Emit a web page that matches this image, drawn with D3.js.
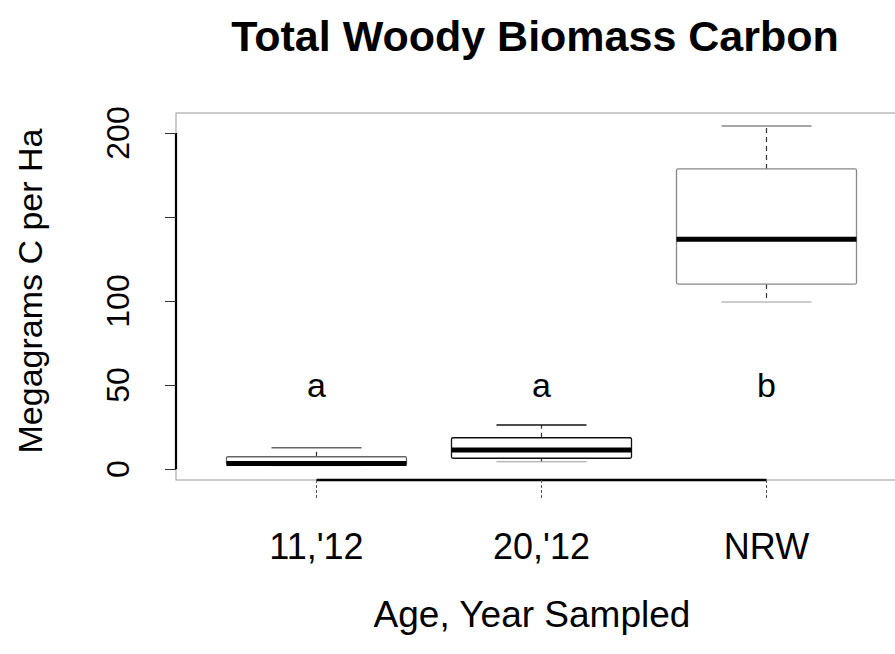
<!DOCTYPE html>
<html>
<head>
<meta charset="utf-8">
<script src="https://cdn.jsdelivr.net/npm/d3@7"></script>
<style>
  html, body { margin: 0; padding: 0; background: #fff; }
  svg { display: block; }
  text { font-family: "Liberation Sans", Arial, sans-serif; fill: #000; }
</style>
</head>
<body>
<svg id="chart" width="895" height="654"></svg>
<script>
// ---- data ----
const categories = ["11,'12", "20,'12", "NRW"];
const lowerWhisker = [2.0, 4.3, 99.4];
const q1 = [2.4, 6.4, 110.1];
const median = [3.3, 11.3, 136.7];
const q3 = [7.3, 18.6, 178.6];
const upperWhisker = [12.7, 26.2, 204.2];
const groupLetters = ["a", "a", "b"];
const letterValue = 50;
const yTicks = [0, 50, 100, 150, 200];
const yTickLabels = ["0", "50", "100", "", "200"];
const titleText = "Total Woody Biomass Carbon";
const xTitle = "Age, Year Sampled";
const yTitle = "Megagrams C per Ha";

const rows = categories.map((c, i) => ({
  cat: c, lo: lowerWhisker[i], q1: q1[i], med: median[i], q3: q3[i], hi: upperWhisker[i], letter: groupLetters[i]
}));

// ---- layout ----
const svg = d3.select("#chart");
svg.append("rect").attr("width", 895).attr("height", 654).attr("fill", "#fff");

const y = d3.scaleLinear().domain([0, 200]).range([469, 133]);
const x = d3.scaleBand().domain(categories).range([204, 879]).paddingInner(0.2).paddingOuter(0.1);
const frame = {left: 176, right: 910, top: 113, bottom: 480};

// plot frame (faint)
svg.append("rect")
  .attr("x", frame.left).attr("y", frame.top)
  .attr("width", frame.right - frame.left).attr("height", frame.bottom - frame.top)
  .attr("fill", "none").attr("stroke", "#9a9a9a").attr("stroke-width", 1);

// y axis
const yAxis = svg.append("g").attr("transform", `translate(${frame.left},0)`)
  .call(d3.axisLeft(y).tickValues(yTicks).tickSize(11).tickFormat(""));
yAxis.select(".domain").attr("d", `M0,${y(0)}V${y(200)}`).attr("stroke", "#000").attr("stroke-width", 2.2);
yAxis.selectAll(".tick line").attr("stroke", "#333").attr("stroke-width", 1);

yTicks.forEach((t, i) => {
  if (!yTickLabels[i]) return;
  svg.append("text")
    .attr("transform", `translate(129,${y(t)}) rotate(-90)`)
    .attr("text-anchor", "middle")
    .attr("font-size", 32)
    .text(yTickLabels[i]);
});

// x axis
const xAxis = svg.append("g").attr("transform", `translate(0,${frame.bottom})`)
  .call(d3.axisBottom(x).tickSize(20).tickFormat(""));
const xc = c => x(c) + x.bandwidth() / 2;
xAxis.select(".domain").attr("d", `M${xc(categories[0])},0H${xc(categories[categories.length-1])}`)
  .attr("stroke", "#000").attr("stroke-width", 2.5);
xAxis.selectAll(".tick line").attr("stroke", "#555").attr("stroke-width", 1).attr("stroke-dasharray", "3,2");

categories.forEach(c => {
  svg.append("text")
    .attr("x", xc(c)).attr("y", 559)
    .attr("text-anchor", "middle")
    .attr("font-size", 36)
    .text(c);
});

// boxes
const bw = x.bandwidth();
const boxStroke = ["#666", "#111", "#888"];
const g = svg.append("g");
rows.forEach((d, i) => {
  const cx = xc(d.cat), x0 = x(d.cat);
  // whiskers
  g.append("line").attr("x1", cx).attr("x2", cx).attr("y1", y(d.q3)).attr("y2", y(d.hi))
    .attr("stroke", "#333").attr("stroke-width", 1.2).attr("stroke-dasharray", "5,4");
  g.append("line").attr("x1", cx).attr("x2", cx).attr("y1", y(d.q1)).attr("y2", y(d.lo))
    .attr("stroke", "#333").attr("stroke-width", 1.2).attr("stroke-dasharray", "5,4");
  // staples
  g.append("line").attr("x1", cx - bw / 4).attr("x2", cx + bw / 4).attr("y1", y(d.hi)).attr("y2", y(d.hi))
    .attr("stroke", boxStroke[i]).attr("stroke-width", 1.5);
  g.append("line").attr("x1", cx - bw / 4).attr("x2", cx + bw / 4).attr("y1", y(d.lo)).attr("y2", y(d.lo))
    .attr("stroke", "#999").attr("stroke-width", 1);
  // box
  g.append("rect").attr("x", x0).attr("y", y(d.q3)).attr("width", bw).attr("height", y(d.q1) - y(d.q3))
    .attr("fill", "#fff").attr("stroke", boxStroke[i]).attr("stroke-width", 1.3).attr("rx", 1.5);
  // median
  g.append("line").attr("x1", x0).attr("x2", x0 + bw).attr("y1", y(d.med)).attr("y2", y(d.med))
    .attr("stroke", "#000").attr("stroke-width", 5);
  // letters
  g.append("text").attr("x", cx).attr("y", y(letterValue) + 12)
    .attr("text-anchor", "middle").attr("font-size", 34).text(d.letter);
});

// titles
svg.append("text").attr("x", 535).attr("y", 51).attr("text-anchor", "middle")
  .attr("font-size", 43).attr("font-weight", "bold").text(titleText);
svg.append("text").attr("x", 532).attr("y", 627).attr("text-anchor", "middle")
  .attr("font-size", 37).text(xTitle);
svg.append("text")
  .attr("transform", `translate(42,291) rotate(-90)`)
  .attr("text-anchor", "middle").attr("font-size", 34).text(yTitle);
</script>
</body>
</html>
